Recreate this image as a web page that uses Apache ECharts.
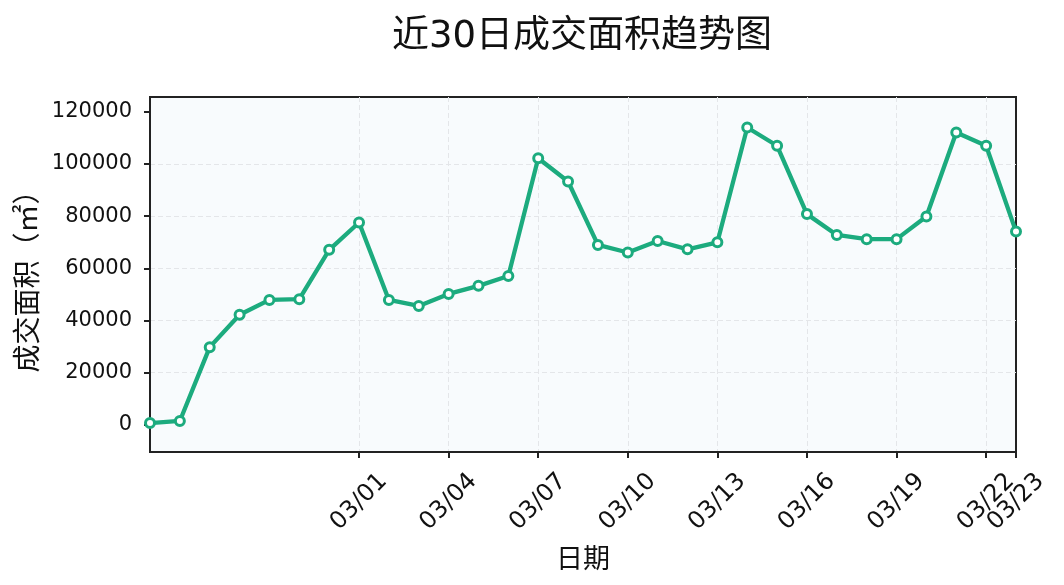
<!DOCTYPE html>
<html><head><meta charset="utf-8">
<script src="https://cdn.jsdelivr.net/npm/echarts@6/dist/echarts.min.js"></script>
<style>html,body{margin:0;padding:0;background:#fff}#c{width:1064px;height:585px}</style>
</head><body><div id="c"></div>
<script>
const dates = ['02/23','02/24','02/25','02/26','02/27','02/28','02/29','03/01','03/02','03/03','03/04','03/05','03/06','03/07','03/08','03/09','03/10','03/11','03/12','03/13','03/14','03/15','03/16','03/17','03/18','03/19','03/20','03/21','03/22','03/23'];
const areaValues = [700,1500,29800,42200,47900,48200,67100,77600,47900,45600,50200,53300,57100,102200,93300,69000,66100,70500,67300,70000,114000,107000,80800,72800,71200,71200,79900,112100,107000,74100];
const tickDates = ['03/01','03/04','03/07','03/10','03/13','03/16','03/19','03/22','03/23'];
const yTicks = [0, 20000, 40000, 60000, 80000, 100000, 120000];

const FONT = "'DejaVu Sans', 'Noto Sans CJK SC', sans-serif";
const LINE = '#1cab7e';
const lastIdx = dates.length - 1;
const showMain = (i) => tickDates.indexOf(dates[i]) >= 0 && i !== lastIdx;
const showLast = (i) => tickDates.indexOf(dates[i]) >= 0 && i === lastIdx;
const labelStyle = {
  rotate: 45, align: 'center', verticalAlign: 'middle', margin: 50, hideOverlap: false,
  fontFamily: FONT, fontSize: 24, color: '#111'
};
const chart = echarts.init(document.getElementById('c'));
chart.setOption({
  animation: false,
  backgroundColor: '#ffffff',
  title: {
    text: '近30日成交面积趋势图',
    left: 387, top: 14,
    textStyle: {fontFamily: FONT, fontSize: 37, fontWeight: 'normal', color: '#111'}
  },
  grid: {
    left: 150, right: 48, top: 97, bottom: 133,
    show: true, backgroundColor: '#f8fbfd', borderColor: '#222', borderWidth: 2
  },
  xAxis: [{
    type: 'category', data: dates, boundaryGap: false, position: 'bottom',
    name: '日期', nameLocation: 'middle', nameGap: 95, nameMoveOverlap: false,
    nameTextStyle: {fontFamily: FONT, fontSize: 27, color: '#111'},
    axisLine: {show: true, onZero: false, lineStyle: {color: '#222', width: 2}},
    axisTick: {show: true, interval: showMain, length: 6, inside: false, lineStyle: {color: '#222', width: 2}},
    axisLabel: Object.assign({interval: showMain}, labelStyle),
    splitLine: {show: true, interval: showMain, lineStyle: {color: '#e4e6e9', type: [5, 3], width: 1}}
  }, {
    type: 'category', data: dates, boundaryGap: false, position: 'bottom', offset: 0,
    axisLine: {show: false, onZero: false},
    axisTick: {show: true, interval: showLast, length: 6, inside: false, lineStyle: {color: '#222', width: 2}},
    axisLabel: Object.assign({interval: showLast}, labelStyle),
    splitLine: {show: false}
  }],
  yAxis: {
    type: 'value', min: -10400, max: 125700, splitNumber: 7,
    name: '成交面积（㎡）', nameLocation: 'middle', nameGap: 106, nameRotate: 90, nameMoveOverlap: false,
    nameTextStyle: {fontFamily: FONT, fontSize: 28, color: '#111'},
    axisLine: {show: true, lineStyle: {color: '#222', width: 2}},
    axisTick: {show: true, length: 6, customValues: yTicks, lineStyle: {color: '#222', width: 2}},
    axisLabel: {
      margin: 18, fontFamily: FONT, fontSize: 21, color: '#111', customValues: yTicks,
      formatter: (v) => String(v)
    },
    splitLine: {show: true, showMinLine: false, showMaxLine: false, lineStyle: {color: '#e4e6e9', type: [5, 3], width: 1}}
  },
  series: [{
    type: 'line', data: areaValues, xAxisIndex: 0,
    symbol: 'circle', symbolSize: 9, showAllSymbol: true,
    lineStyle: {color: LINE, width: 4.3},
    itemStyle: {color: '#ffffff', borderColor: LINE, borderWidth: 3}
  }]
});
</script></body></html>
